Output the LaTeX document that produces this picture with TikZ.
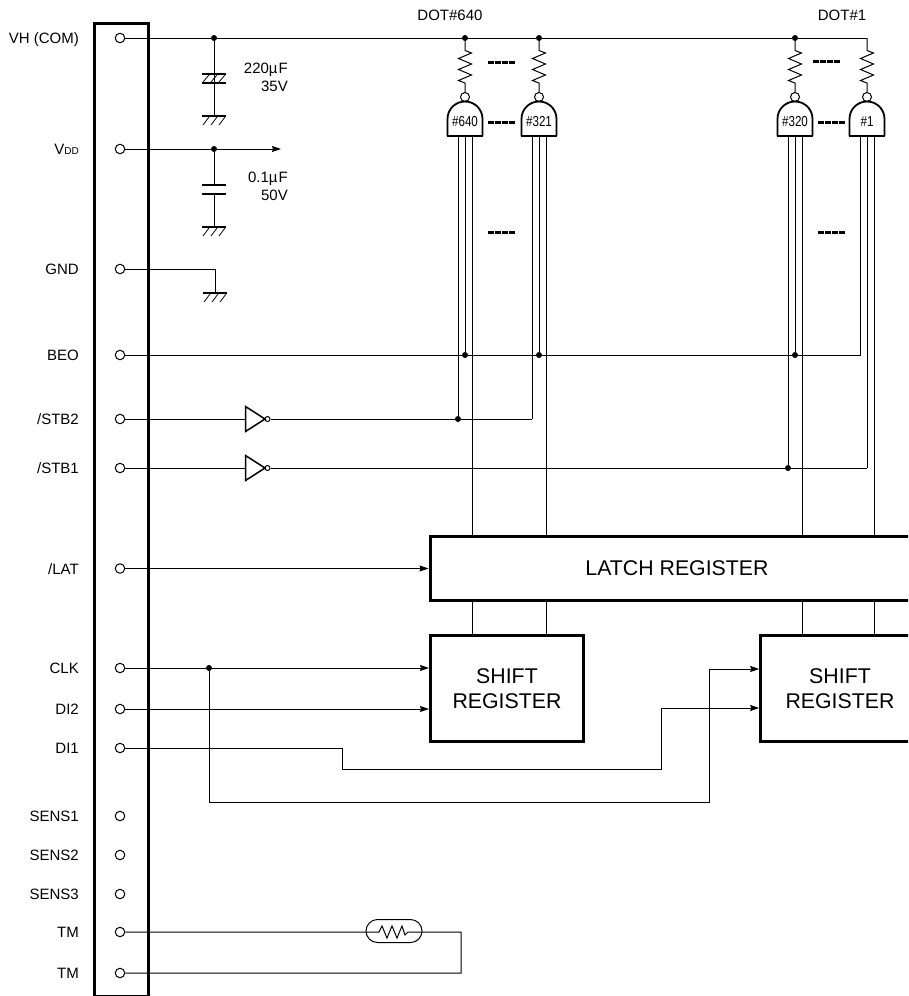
\documentclass[tikz,border=0pt]{standalone}
\usepackage{fontspec}
\setmainfont{Liberation Sans}
\newfontfamily\narrowfont[FakeStretch=0.8]{Liberation Sans}
\usetikzlibrary{arrows.meta,calc}
\tikzset{
  wire/.style={line width=1pt,line join=miter},
  bar/.style={line width=2.6pt},
  pinmark/.style={circle,draw,line width=1pt,fill=white,inner sep=0pt,minimum size=9.5pt},
  bubble/.style={circle,draw,line width=1pt,fill=white,inner sep=0pt},
  joint/.style={circle,fill=black,inner sep=0pt,minimum size=6pt},
  pinlabel/.style={anchor=base east,inner sep=0pt,font=\fontsize{15}{17}\selectfont},
  vallabel/.style={anchor=north east,align=right,inner sep=0pt,font=\fontsize{15}{17.5}\selectfont},
  toplabel/.style={inner sep=0pt,font=\fontsize{15}{17}\selectfont},
  block/.style={draw,line width=3pt,align=center,inner sep=0pt,font=\fontsize{21.3}{25}\selectfont},
  arrowed/.style={-{Stealth[length=9pt,width=6pt,inset=1pt]}},
  dashbar/.style={line width=3pt,dash pattern=on 6pt off 1pt},
  gndmark/.pic={
    \draw[line width=2pt] (-12,0) -- (12,0);
    \foreach \d in {-8,0,8} \draw[line width=.8pt] (\d+3,1) -- (\d-3,9);
  }
}
\begin{document}
\begin{tikzpicture}[x=1pt,y=-1pt]
\useasboundingbox (0,0) rectangle (908,996);
\clip (0,0) rectangle (908,996);
\fill[white] (0,0) rectangle (908,996);
% connector panel
\node[draw,line width=3pt,minimum width=53.5pt,minimum height=972.5pt,inner sep=0pt,anchor=north west] (panel) at (93.2,22) {};
% pins
\foreach \n/\y/\t in {vh/38/{VH (COM)},vdd/149/{V{\fontsize{10}{10}\selectfont DD}},gnd/269/GND,beo/355/BEO,stbb/419/{/STB2},stba/468/{/STB1},lat/568.5/{/LAT},clk/668/CLK,dib/709/DI2,dia/748/DI1,sa/816/SENS1,sb/855/SENS2,sc/894/SENS3,tma/932/TM,tmb/973/TM}{
  \node[pinmark] (p\n) at (120,\y) {};
  \node[pinlabel] (l\n) at (79,\y+5.5) {\t};
}
% blocks
\node[block,minimum width=494pt,minimum height=63.5pt] (latch) at (677,568.5) {LATCH REGISTER};
\node[block,minimum width=153pt,minimum height=106.5pt] (shifta) at (507,688.5) {SHIFT\\REGISTER};
\node[block,minimum width=158.6pt,minimum height=106.5pt] (shiftb) at (840,688.5) {SHIFT\\REGISTER};
% VH rail
\node[joint] (jc1) at (214,38) {};
\node[joint] (ja) at (465,38) {};
\node[joint] (jb) at (539,38) {};
\node[joint] (jc) at (795,38) {};
\coordinate (jd) at (867,38);
\draw[wire] (pvh) -- (jc1) -- (ja) -- (jb) -- (jc) -- (jd);
% emitters
\foreach \n/\x/\t in {a/465/\#640,b/539/\#321,c/795/\#320,d/867/\#1}{
  \draw[wire] (j\n) -- (\x,50.5) -- (\x+6.5,53) -- (\x-6.5,58.5) -- (\x+6.5,64) -- (\x-6.5,69.5) -- (\x+6.5,75) -- (\x-6.5,80.5) -- (\x,83) -- (\x,92.5);
  \node[bubble,minimum size=9pt] (bub\n) at (\x,97) {};
  \draw[line width=1.8pt] (\x-17.5,136) -- (\x-17.5,119) .. controls (\x-17.5,109) and (\x-9.5,101.5) .. (\x,101.5) .. controls (\x+9.5,101.5) and (\x+17.5,109) .. (\x+17.5,119) -- (\x+17.5,136);
  \draw[line width=2pt] (\x-18.3,136) -- (\x+18.3,136);
  \node[inner sep=0pt,font=\fontsize{14.5}{14.5}\narrowfont] (g\n) at (\x,122) {\t};
  \coordinate (gl\n) at (\x-7,136);
  \coordinate (gm\n) at (\x,136);
  \coordinate (gr\n) at (\x+7,136);
}
% BEO
\node[joint] (ba) at (465,355) {};
\node[joint] (bb) at (539,355) {};
\node[joint] (bc) at (795,355) {};
\coordinate (bd) at (860,355);
\draw[wire] (pbeo) -- (ba) -- (bb) -- (bc) -- (bd) -- (gld);
\draw[wire] (gma) -- (ba);
\draw[wire] (gmb) -- (bb);
\draw[wire] (gmc) -- (bc);
% strobes
\node[joint] (sa) at (458,419) {};
\coordinate (sb) at (532,419);
\node[joint] (sc) at (788,468) {};
\coordinate (sd) at (867,468);
\draw[wire] (gla) -- (sa);
\draw[wire] (glb) -- (sb);
\draw[wire] (glc) -- (sc);
\draw[wire] (gmd) -- (sd);
\foreach \p/\y/\a/\b in {stbb/419/sa/sb,stba/468/sc/sd}{
  \coordinate (ti\p) at (245.5,\y);
  \coordinate (tt\p) at (245.5,\y-12.5);
  \coordinate (tb\p) at (245.5,\y+12.5);
  \node[bubble,minimum size=5pt] (bb\p) at (267.5,\y) {};
  \draw[line width=1.5pt,line join=miter] (tt\p) -- (265,\y) -- (tb\p) -- cycle;
  \draw[wire] (p\p) -- (ti\p);
  \draw[wire] (bb\p) -- (\a) -- (\b);
}
% data lines through latch
\foreach \n in {a,b,c,d}{
  \draw[wire] (gr\n) -- (gr\n |- latch.north);
}
\draw[wire] (gra |- latch.south) -- (gra |- shifta.north);
\draw[wire] (grb |- latch.south) -- (grb |- shifta.north);
\draw[wire] (grc |- latch.south) -- (grc |- shiftb.north);
\draw[wire] (grd |- latch.south) -- (grd |- shiftb.north);
% dashes
\coordinate (da1) at (488,62); \coordinate (da2) at (515,62);
\coordinate (db1) at (488,122); \coordinate (db2) at (515,122);
\coordinate (dc1) at (488,232); \coordinate (dc2) at (515,232);
\coordinate (dd1) at (813,61); \coordinate (dd2) at (841,61);
\coordinate (de1) at (818,122); \coordinate (de2) at (845,122);
\coordinate (df1) at (818,232); \coordinate (df2) at (845,232);
\foreach \m in {a,b,c,d,e,f} \draw[dashbar] (d\m1) -- (d\m2);
% capacitors
\draw[wire] (jc1) -- (214,116);
\draw[bar] (202,74) -- (226,74);
\draw[bar] (202,83) -- (226,83);
\foreach \d in {-8,0,8} \draw[line width=.8pt] (214+\d+3,75) -- (214+\d-3,82);
\pic at (214,116) {gndmark};
\node[joint] (jv) at (214,149) {};
\coordinate (vend) at (281,149);
\draw[wire] (pvdd) -- (jv);
\draw[wire,arrowed] (jv) -- (vend);
\draw[wire] (jv) -- (214,185);
\draw[wire] (214,194) -- (214,227);
\draw[bar] (202,185) -- (226,185);
\draw[bar] (202,194) -- (226,194);
\pic at (214,227) {gndmark};
\coordinate (gc) at (215,293);
\draw[wire] (pgnd) -| (gc);
\pic at (215,293) {gndmark};
\node[vallabel] (v1) at (288,63) {220µ\kern1ptF\\35V};
\node[vallabel] (v2) at (288,172) {0.1µ\kern1ptF\\50V};
% top labels
\node[toplabel] (t1) at (450,15.5) {DOT\#640};
\node[toplabel] (t2) at (842,15.5) {DOT\#1};
% inputs
\draw[wire,arrowed] (plat) -- (latch.west);
\node[joint] (jclk) at (209,668) {};
\draw[wire] (pclk) -- (jclk);
\draw[wire,arrowed] (jclk) -- (jclk -| shifta.west);
\draw[wire,arrowed] (pdib) -- (pdib -| shifta.west);
\coordinate (d1) at (342,748); \coordinate (d2) at (342,769);
\coordinate (d3) at (661,769); \coordinate (d4) at (661,708);
\draw[wire] (pdia) -- (d1) -- (d2) -- (d3) -- (d4);
\draw[wire,arrowed] (d4) -- (d4 -| shiftb.west);
\coordinate (c1) at (209,802); \coordinate (c2) at (709,802); \coordinate (c3) at (709,669);
\draw[wire] (jclk) -- (c1) -- (c2) -- (c3);
\draw[wire,arrowed] (c3) -- (c3 -| shiftb.west);
% thermistor
\node[draw,line width=1pt,minimum width=56pt,minimum height=23pt,inner sep=0pt,rounded corners=11.5pt] (therm) at (394,931) {};
\coordinate (z1) at (379,932); \coordinate (z2) at (408,932);
\coordinate (r1) at (461,932); \coordinate (r2) at (461,973);
\draw[wire] (ptma) -- (z1) -- (382,926) -- (387,938) -- (392,926) -- (397,938) -- (402,926) -- (405,935) -- (z2) -- (r1) -- (r2) -- (ptmb);
\end{tikzpicture}
\end{document}
